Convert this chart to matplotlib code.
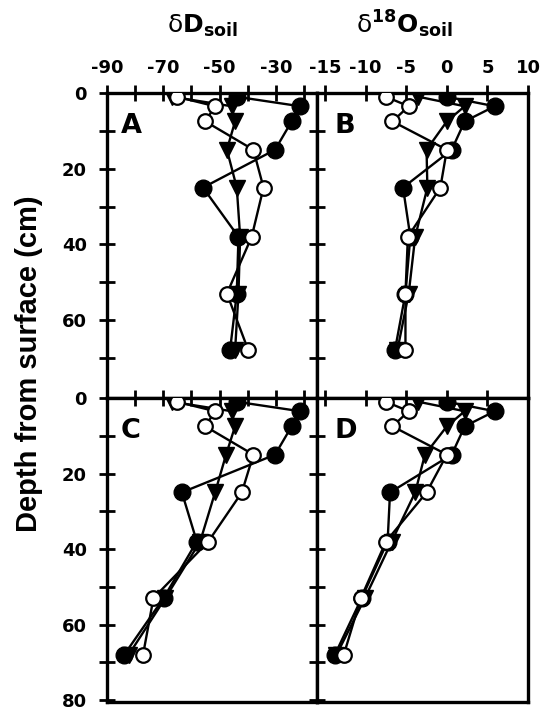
import matplotlib
matplotlib.use("Agg")
import matplotlib.pyplot as plt

# sampling depths (cm)
depth = [1, 3.5, 7.5, 15, 25, 38, 53, 68]

# panel A / C : dD of soil water
dD_A_filled = [-43.9, -21.4, -24.4, -30.3, -55.9, -43.3, -43.9, -46.3]
dD_A_open = [-65.2, -51.6, -55.1, -38.0, -34.4, -38.6, -47.4, -39.8]
dD_A_tri = [-66.9, -45.7, -44.5, -47.4, -43.9, -42.7, -43.3, -44.5]

dD_C_filled = [-43.9, -21.4, -24.4, -30.3, -63.4, -58.1, -69.9, -83.9]
dD_C_open = [-65.2, -51.6, -55.1, -38.0, -42.1, -54.0, -73.5, -77.2]
dD_C_tri = [-66.9, -45.7, -44.5, -47.7, -51.6, -56.9, -69.3, -82.3]

# panel B / D : d18O of soil water
d18O_B_filled = [0.0, 5.9, 2.2, 0.6, -5.4, -4.5, -5.1, -6.4]
d18O_B_open = [-7.5, -4.7, -6.7, 0.0, -0.8, -4.8, -5.1, -5.1]
d18O_B_tri = [-3.5, 2.2, 0.0, -2.5, -2.4, -3.9, -4.7, -6.1]

d18O_D_filled = [0.0, 5.9, 2.2, 0.6, -7.0, -7.3, -10.5, -13.8]
d18O_D_open = [-7.5, -4.7, -6.7, 0.0, -2.5, -7.5, -10.6, -12.7]
d18O_D_tri = [-3.5, 2.2, 0.0, -2.7, -3.9, -6.8, -10.1, -13.6]

dD_major = [-90, -70, -50, -30]
dD_minor = [-80, -60, -40, -20]
d18O_major = [-15, -10, -5, 0, 5, 10]

plt.rcParams['mathtext.fontset'] = 'dejavusans'
plt.rcParams['axes.unicode_minus'] = False
tick_font = {'family': 'DejaVu Sans', 'weight': 'bold', 'size': 13}

W, H = 542, 721
fig = plt.figure(figsize=(W / 100, H / 100), dpi=100)


def px_box(x0, x1, y0, y1):
    return [x0 / W, 1 - y1 / H, (x1 - x0) / W, (y1 - y0) / H]


axA = fig.add_axes(px_box(107, 317, 93, 398))
axB = fig.add_axes(px_box(317, 528, 93, 398))
axC = fig.add_axes(px_box(107, 317, 398, 702))
axD = fig.add_axes(px_box(317, 528, 398, 702))

panels = [
    (axA, dD_A_filled, dD_A_open, dD_A_tri, 'A'),
    (axB, d18O_B_filled, d18O_B_open, d18O_B_tri, 'B'),
    (axC, dD_C_filled, dD_C_open, dD_C_tri, 'C'),
    (axD, d18O_D_filled, d18O_D_open, d18O_D_tri, 'D'),
]

for ax, filled, opn, tri, letter in panels:
    ax.plot(filled, depth, '-o', color='black', lw=1.7, ms=12, mfc='black',
            mec='black', zorder=3)
    ax.plot(tri, depth, '-v', color='black', lw=1.7, ms=11, mfc='black',
            mec='black', zorder=4)
    ax.plot(opn, depth, '-o', color='black', lw=1.7, ms=10.5, mfc='white',
            mec='black', mew=1.6, zorder=5)

    is_top = ax in (axA, axB)
    is_left = ax in (axA, axC)

    if is_left:
        ax.set_xlim(-90, -15.4)
        ax.set_xticks(dD_major)
        ax.set_xticks(dD_minor, minor=True)
    else:
        ax.set_xlim(-16, 10)
        ax.set_xticks(d18O_major)

    if is_top:
        ax.set_ylim(80.6, 0)
        ax.set_yticks([0, 20, 40, 60])
    else:
        ax.set_ylim(80.5, 0)
        ax.set_yticks([0, 20, 40, 60, 80])
    ax.set_yticks([10, 30, 50, 70], minor=True)

    for s in ax.spines.values():
        s.set_linewidth(2.4)

    ax.tick_params(axis='x', which='both', top=True, bottom=False,
                   labeltop=is_top, labelbottom=False, direction='inout',
                   length=12, width=2, pad=5.5)
    ax.tick_params(axis='y', which='both', left=True, right=False,
                   labelleft=is_left, labelright=False, direction='inout',
                   length=12, width=2, pad=8.5)
    for lab in ax.get_xticklabels() + ax.get_yticklabels():
        lab.set_fontproperties(tick_font)

    lx = 0.065 if is_left else 0.085
    ly = 0.869 if is_top else 0.868
    ax.text(lx, ly, letter, transform=ax.transAxes, ha='left', va='baseline',
            fontsize=19.5, fontweight='bold', family='DejaVu Sans')

fig.text(203 / W, 1 - 33 / H, r'$\mathrm{\delta}\mathbf{D}_{\mathbf{soil}}$',
         ha='center', va='baseline', fontsize=18)
fig.text(405 / W, 1 - 33 / H,
         r'$\mathrm{\delta}^{\mathbf{18}}\mathbf{O}_{\mathbf{soil}}$',
         ha='center', va='baseline', fontsize=18)
fig.text(29 / W, 1 - 364 / H, 'Depth from surface (cm)', rotation=90,
         ha='center', va='center', fontsize=21, fontweight='bold',
         family='Liberation Sans')

fig.savefig('out.png', dpi=100)
